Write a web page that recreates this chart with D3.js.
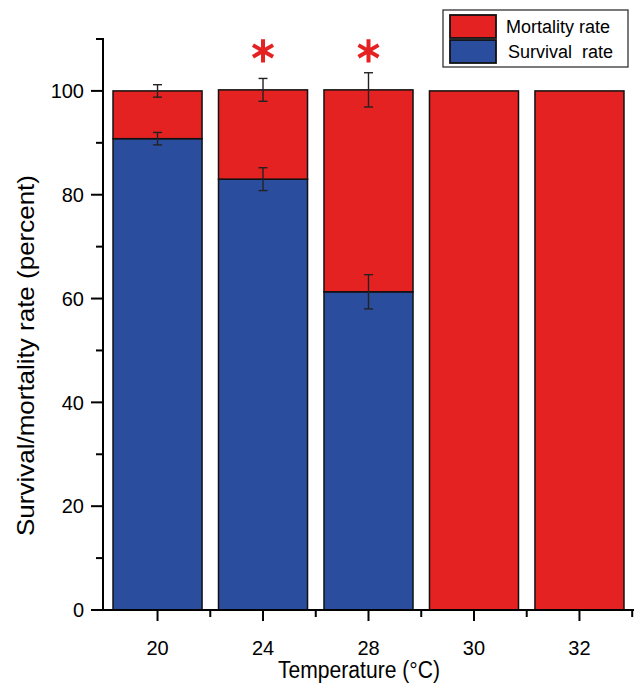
<!DOCTYPE html>
<html>
<head>
<meta charset="utf-8">
<script src="https://cdn.jsdelivr.net/npm/d3@7"></script>
<style>
  html, body { margin: 0; padding: 0; background: #fff; }
  svg { display: block; font-family: "Liberation Sans", Arial, Helvetica, sans-serif; }
</style>
</head>
<body>
<svg id="chart" width="635" height="684"></svg>
<script>
// ---- data ----
const categories = ["20", "24", "28", "30", "32"];
const survival = [90.8, 83.0, 61.3, 0, 0];
const survivalErr = [1.2, 2.2, 3.3, 0, 0];
const mortality = [9.2, 17.2, 38.9, 100, 100];
const totalErr = [1.2, 2.2, 3.3, 0, 0];
const significant = [false, true, true, false, false];
const yMajorTicks = [0, 20, 40, 60, 80, 100];
const yMinorTicks = [10, 30, 50, 70, 90, 110];
const seriesNames = ["Mortality rate", "Survival  rate"];

const RED = "#e52222", BLUE = "#2b4d9e";

const svg = d3.select("#chart");
const x0 = 103, x1 = 634, yTop = 39, yBot = 610;

const x = d3.scaleBand().domain(categories).range([x0, x1])
  .paddingInner(0.156).paddingOuter(0.095);
const y = d3.scaleLinear().domain([0, 110]).range([yBot, yTop]);
const bw = x.bandwidth();
const gap = x.step() - bw;

const data = categories.map((c, i) => ({
  c, s: survival[i], se: survivalErr[i], m: mortality[i], te: totalErr[i], sig: significant[i]
}));

// bars: survival (bottom) and mortality (top)
const g = svg.append("g");
g.selectAll("rect.surv").data(data.filter(d => d.s > 0)).join("rect")
  .attr("class", "surv")
  .attr("x", d => x(d.c)).attr("width", bw)
  .attr("y", d => y(d.s)).attr("height", d => y(0) - y(d.s))
  .attr("fill", BLUE).attr("stroke", "#111").attr("stroke-width", 1.5);
g.selectAll("rect.mort").data(data).join("rect")
  .attr("class", "mort")
  .attr("x", d => x(d.c)).attr("width", bw)
  .attr("y", d => y(d.s + d.m)).attr("height", d => y(d.s) - y(d.s + d.m))
  .attr("fill", RED).attr("stroke", "#111").attr("stroke-width", 1.5);

// error bars
function errBars(valFn, errFn) {
  const dd = data.filter(d => errFn(d) > 0);
  const eg = g.append("g").attr("stroke", "#222").attr("stroke-width", 1.4).attr("fill", "none");
  dd.forEach(d => {
    const cx = x(d.c) + bw / 2;
    const v = valFn(d), e = errFn(d);
    eg.append("line").attr("x1", cx).attr("x2", cx).attr("y1", y(v - e)).attr("y2", y(v + e));
    eg.append("line").attr("x1", cx - 4.5).attr("x2", cx + 4.5).attr("y1", y(v - e)).attr("y2", y(v - e));
    eg.append("line").attr("x1", cx - 4.5).attr("x2", cx + 4.5).attr("y1", y(v + e)).attr("y2", y(v + e));
  });
}
errBars(d => d.s, d => d.se);
errBars(d => d.s + d.m, d => d.te);

// significance asterisks
const starLevel = 107.7;
const star = d3.symbol().type(d3.symbolAsterisk || d3.symbolCross).size(380);
g.selectAll("path.star").data(data.filter(d => d.sig)).join("path")
  .attr("class", "star")
  .attr("transform", d => `translate(${x(d.c) + bw / 2},${y(starLevel)})`)
  .attr("d", star)
  .attr("fill", "none").attr("stroke", RED).attr("stroke-width", 4);

// axes
const ax = svg.append("g").attr("stroke", "#000").attr("stroke-width", 2).attr("fill", "none");
ax.append("line").attr("x1", x0).attr("x2", x0).attr("y1", yTop - 1).attr("y2", yBot);
ax.append("line").attr("x1", x0 - 11).attr("x2", x1).attr("y1", yBot).attr("y2", yBot);

// y ticks
ax.selectAll("line.ymaj").data(yMajorTicks).join("line").attr("class", "ymaj")
  .attr("x1", x0 - 12).attr("x2", x0).attr("y1", d => y(d)).attr("y2", d => y(d));
ax.selectAll("line.ymin").data(yMinorTicks).join("line").attr("class", "ymin")
  .attr("x1", x0 - 7).attr("x2", x0).attr("y1", d => y(d)).attr("y2", d => y(d));
svg.append("g").selectAll("text").data(yMajorTicks).join("text")
  .attr("x", x0 - 19).attr("y", d => y(d)).attr("dy", "0.36em")
  .attr("text-anchor", "end").attr("font-size", 20).attr("fill", "#000")
  .text(d => d);

// x ticks
ax.selectAll("line.xmaj").data(categories).join("line").attr("class", "xmaj")
  .attr("x1", d => x(d) + bw / 2).attr("x2", d => x(d) + bw / 2)
  .attr("y1", yBot).attr("y2", yBot + 11);
ax.selectAll("line.xmin").data(categories).join("line").attr("class", "xmin")
  .attr("x1", d => x(d) + bw + gap / 2).attr("x2", d => x(d) + bw + gap / 2)
  .attr("y1", yBot).attr("y2", yBot + 7);
svg.append("g").selectAll("text").data(categories).join("text")
  .attr("x", d => x(d) + bw / 2).attr("y", 648).attr("dy", "0.36em")
  .attr("text-anchor", "middle").attr("font-size", 20).attr("fill", "#000")
  .text(d => d);

// axis titles
svg.append("text").attr("x", 359).attr("y", 670).attr("dy", "0.36em")
  .attr("text-anchor", "middle").attr("font-size", 23).attr("fill", "#000")
  .attr("textLength", 162).attr("lengthAdjust", "spacingAndGlyphs")
  .text("Temperature (°C)");
svg.append("text").attr("transform", `translate(25,355.5) rotate(-90)`)
  .attr("dy", "0.36em").attr("text-anchor", "middle").attr("font-size", 24).attr("fill", "#000")
  .attr("textLength", 361).attr("lengthAdjust", "spacingAndGlyphs")
  .text("Survival/mortality rate (percent)");

// legend
const lg = svg.append("g");
lg.append("rect").attr("x", 443).attr("y", 10).attr("width", 185).attr("height", 57)
  .attr("fill", "#fff").attr("stroke", "#333").attr("stroke-width", 1.3);
const legCols = [RED, BLUE];
lg.selectAll("rect.sw").data(seriesNames).join("rect").attr("class", "sw")
  .attr("x", 450).attr("y", (d, i) => 15 + i * 25).attr("width", 46).attr("height", 23)
  .attr("fill", (d, i) => legCols[i]).attr("stroke", "#111").attr("stroke-width", 1.8);
lg.selectAll("text").data(seriesNames).join("text")
  .attr("x", (d, i) => 506 + i * 2).attr("y", (d, i) => 26.5 + i * 25).attr("dy", "0.36em")
  .attr("font-size", 18).attr("fill", "#000").style("white-space", "pre")
  .attr("xml:space", "preserve")
  .text(d => d);
</script>
</body>
</html>
